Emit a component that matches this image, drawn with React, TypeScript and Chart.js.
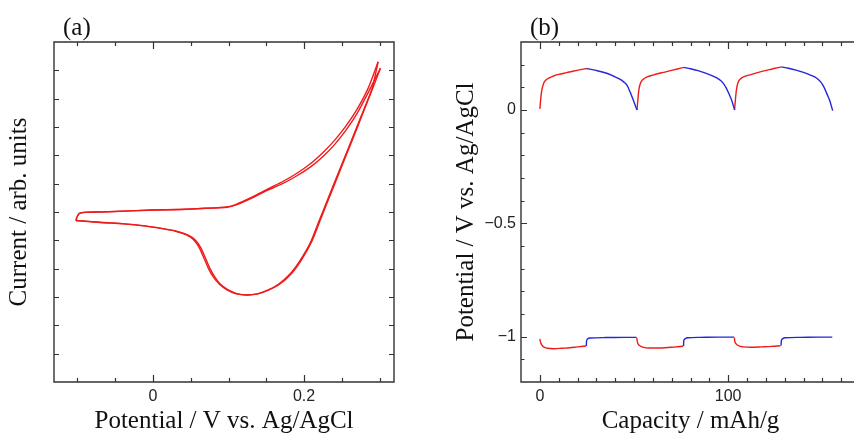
import React, { useEffect, useRef } from 'react';
import { Chart, registerables } from 'chart.js';

Chart.register(...registerables);

// ---------- (a) Cyclic voltammogram: [potential V, current arb.] ----------
const cv1Anodic: number[][] = [
  [-0.102, -0.3], [-0.1, -0.15], [-0.097, -0.05], [-0.09, -0.015], [-0.075, 0.0], [-0.06, 0.005],
  [-0.03, 0.04], [0, 0.07], [0.036, 0.09], [0.07, 0.13], [0.098, 0.18], [0.11, 0.27],
  [0.133, 0.55], [0.151, 0.8], [0.17, 1.05], [0.19, 1.36], [0.21, 1.74], [0.225, 2.1],
  [0.24, 2.52], [0.255, 3.02], [0.27, 3.62], [0.285, 4.38], [0.298, 5.3],
];
const cv1Cathodic: number[][] = [
  [0.298, 5.3], [0.29, 4.36], [0.274, 3.28], [0.26, 2.35], [0.245, 1.36], [0.23, 0.36],
  [0.22, -0.3], [0.208, -1.1], [0.195, -1.7], [0.182, -2.17], [0.166, -2.55],
  [0.151, -2.77], [0.138, -2.89], [0.124, -2.93], [0.11, -2.89], [0.098, -2.75], [0.088, -2.55],
  [0.08, -2.3], [0.073, -1.97], [0.067, -1.6], [0.061, -1.25], [0.054, -0.99], [0.045, -0.82],
  [0.03, -0.68], [0.01, -0.58], [-0.01, -0.5], [-0.04, -0.42], [-0.07, -0.37], [-0.102, -0.3],
];
const cv2Anodic: number[][] = [
  [-0.102, -0.3], [-0.1, -0.14], [-0.097, -0.04], [-0.09, -0.01], [-0.075, 0.0], [-0.06, 0.01],
  [-0.03, 0.04], [0, 0.07], [0.036, 0.09], [0.07, 0.13], [0.098, 0.17], [0.11, 0.25],
  [0.133, 0.52], [0.151, 0.76], [0.17, 0.98], [0.19, 1.27], [0.21, 1.62], [0.225, 1.96],
  [0.24, 2.37], [0.255, 2.87], [0.27, 3.47], [0.285, 4.22], [0.301, 5.07],
];
const cv2Cathodic: number[][] = [
  [0.301, 5.07], [0.292, 4.45], [0.276, 3.36], [0.262, 2.42], [0.247, 1.42], [0.232, 0.42],
  [0.222, -0.25], [0.21, -1.05], [0.197, -1.67], [0.184, -2.15], [0.168, -2.54],
  [0.152, -2.77], [0.139, -2.89], [0.125, -2.93], [0.111, -2.88], [0.099, -2.74], [0.089, -2.54],
  [0.082, -2.3], [0.075, -1.97], [0.069, -1.6], [0.063, -1.25], [0.056, -0.99], [0.046, -0.81],
  [0.03, -0.67], [0.01, -0.57], [-0.01, -0.49], [-0.04, -0.41], [-0.07, -0.36], [-0.102, -0.3],
];

const cvXMajor = [0, 0.2];
const cvXMinor = [-0.1, -0.05, 0.05, 0.1, 0.15, 0.25, 0.3];
const cvYTicks = [-5, -4, -3, -2, -1, 0, 1, 2, 3, 4, 5];

// ---------- (b) Charge/discharge: [capacity mAh/g, potential V] ----------
const posCharge1: number[][] = [
  [0, 0.005], [0.5, 0.05], [1, 0.085], [1.9, 0.115], [3, 0.13], [5, 0.142], [7.2, 0.15],
  [10, 0.157], [14.3, 0.165], [18, 0.172], [21.5, 0.178], [24.8, 0.183],
];
const posDischarge1: number[][] = [
  [24.8, 0.183], [28, 0.178], [31, 0.172], [35.5, 0.162], [39, 0.15], [42.5, 0.136],
  [44.5, 0.124], [46.4, 0.108], [48, 0.078], [49.6, 0.044], [51.6, 0.0],
];
const posCharge2: number[][] = [
  [51.6, 0.0], [52.1, 0.05], [52.6, 0.09], [53.5, 0.12], [54.8, 0.135], [57, 0.146],
  [60, 0.154], [65, 0.165], [70, 0.175], [73, 0.181], [76.5, 0.188],
];
const posDischarge2: number[][] = [
  [76.5, 0.188], [80, 0.182], [84, 0.174], [88, 0.163], [92, 0.149], [95, 0.136],
  [97, 0.122], [98.8, 0.1], [100.5, 0.07], [102, 0.04], [103.4, 0.0],
];
const posCharge3: number[][] = [
  [103.4, 0.0], [103.9, 0.05], [104.4, 0.09], [105.2, 0.12], [106.4, 0.136], [108.5, 0.147],
  [112, 0.156], [117, 0.168], [122, 0.178], [125, 0.184], [128.3, 0.19],
];
const posDischarge3: number[][] = [
  [128.3, 0.19], [132, 0.184], [136, 0.176], [140, 0.166], [144, 0.153], [147, 0.14],
  [149, 0.125], [150.8, 0.102], [152.5, 0.07], [154, 0.04], [155.5, -0.003],
];
const negCharge1: number[][] = [
  [0, -1.01], [0.3, -1.022], [0.9, -1.035], [2, -1.045], [4, -1.051], [7.2, -1.053],
  [12, -1.051], [16, -1.049], [20, -1.045], [24.6, -1.041],
];
const negDischarge1: number[][] = [
  [24.7, -1.041], [24.8, -1.02], [25.3, -1.01], [26.7, -1.006], [35, -1.004], [45, -1.003], [51.4, -1.003],
];
const negCharge2: number[][] = [
  [51.5, -1.005], [51.7, -1.02], [52.2, -1.033], [53.1, -1.04], [55, -1.047], [58, -1.05],
  [62, -1.05], [66.5, -1.049], [71, -1.046], [76.1, -1.042],
];
const negDischarge2: number[][] = [
  [76.3, -1.041], [76.4, -1.02], [77, -1.01], [78.5, -1.005], [85, -1.003], [95, -1.002], [103.2, -1.002],
];
const negCharge3: number[][] = [
  [103.3, -1.004], [103.5, -1.02], [104, -1.03], [105, -1.038], [108, -1.045], [112, -1.047],
  [118, -1.045], [123, -1.043], [127.8, -1.04],
];
const negDischarge3: number[][] = [
  [128.1, -1.039], [128.2, -1.02], [128.8, -1.01], [130, -1.005], [138, -1.003], [148, -1.002], [155.3, -1.002],
];

const gcdXMajor = [0, 100];
const gcdXMinor = [10, 20, 30, 40, 50, 60, 70, 80, 90, 110, 120, 130, 140, 150, 160];
const gcdYMajor = [0, -0.5, -1];
const gcdYMinor = [0.2, 0.1, -0.1, -0.2, -0.3, -0.4, -0.6, -0.7, -0.8, -0.9, -1.1];

const RED = '#ee1b1b';
const BLUE = '#2525dd';
const AXIS = '#333333';
const SERIF = '"Liberation Serif", "Times New Roman", serif';
const SANS = '"Liberation Sans", Arial, sans-serif';

const toPts = (arr: number[][]) => arr.map(([x, y]) => ({ x, y }));
const fmt = (v: number) => String(v).replace('-', '\u2212');

type TickSpec = {
  xMajor: number[]; xMinor: number[]; yMajor: number[]; yMinor: number[];
  xMajLen: number; xMinLen: number; yMajLen: number; yMinLen: number;
  label: string; labelX: number; rightEdge: boolean;
};

function boxPlugin(spec: TickSpec) {
  return {
    id: 'boxTicks',
    afterDraw(chart: any) {
      const { ctx, chartArea, scales } = chart;
      const { left, right, top, bottom } = chartArea;
      const xs = scales.x;
      const ys = scales.y;
      ctx.save();
      ctx.strokeStyle = AXIS;
      ctx.lineWidth = 1.4;
      ctx.beginPath();
      ctx.moveTo(right, top);
      ctx.lineTo(left, top);
      ctx.lineTo(left, bottom);
      ctx.lineTo(right, bottom);
      if (spec.rightEdge) ctx.closePath();
      ctx.stroke();
      ctx.lineWidth = 1.2;
      const drawX = (vals: number[], len: number) => {
        vals.forEach((v) => {
          const px = Math.round(xs.getPixelForValue(v)) + 0.5;
          ctx.beginPath();
          ctx.moveTo(px, bottom);
          ctx.lineTo(px, bottom - len);
          ctx.moveTo(px, top);
          ctx.lineTo(px, top + len);
          ctx.stroke();
        });
      };
      const drawY = (vals: number[], len: number) => {
        vals.forEach((v) => {
          const py = Math.round(ys.getPixelForValue(v)) + 0.5;
          ctx.beginPath();
          ctx.moveTo(left, py);
          ctx.lineTo(left + len, py);
          ctx.moveTo(right, py);
          ctx.lineTo(right - len, py);
          ctx.stroke();
        });
      };
      drawX(spec.xMajor, spec.xMajLen);
      drawX(spec.xMinor, spec.xMinLen);
      drawY(spec.yMajor, spec.yMajLen);
      drawY(spec.yMinor, spec.yMinLen);
      ctx.fillStyle = '#111';
      ctx.font = `25px ${SERIF}`;
      ctx.textBaseline = 'alphabetic';
      ctx.textAlign = 'left';
      ctx.fillText(spec.label, spec.labelX, 35);
      ctx.restore();
    },
  };
}

function lineDs(arr: number[][], color: string, mode: 'cv' | 'gcd') {
  return {
    data: toPts(arr),
    showLine: true,
    borderColor: color,
    backgroundColor: color,
    borderWidth: 1.4,
    pointRadius: 0,
    tension: mode === 'cv' ? 0.2 : 0,
    cubicInterpolationMode: mode === 'gcd' ? 'monotone' : 'default',
  } as any;
}

export default function App() {
  const leftRef = useRef<HTMLCanvasElement | null>(null);
  const rightRef = useRef<HTMLCanvasElement | null>(null);

  useEffect(() => {
    const tickFont = { family: SANS, size: 16 };
    const titleFont = { family: SERIF, size: 25, lineHeight: 1 };

    const left = new Chart(leftRef.current as HTMLCanvasElement, {
      type: 'scatter',
      data: {
        datasets: [
          lineDs(cv1Anodic, RED, 'cv'),
          lineDs(cv1Cathodic, RED, 'cv'),
          lineDs(cv2Anodic, RED, 'cv'),
          lineDs(cv2Cathodic, RED, 'cv'),
        ],
      },
      options: {
        animation: false,
        responsive: false,
        layout: { padding: { top: 42, right: 33, left: 0, bottom: 0 } },
        plugins: { legend: { display: false }, tooltip: { enabled: false } },
        scales: {
          x: {
            type: 'linear',
            min: -0.131,
            max: 0.319,
            grid: { display: false, drawTicks: false },
            border: { display: false },
            afterBuildTicks: (s: any) => { s.ticks = cvXMajor.map((value) => ({ value })); },
            afterFit: (s: any) => { s.height = 52; },
            ticks: { font: tickFont, color: '#222', padding: 5, maxRotation: 0, autoSkip: false, callback: (v: any) => fmt(v) },
            title: { display: true, text: 'Potential / V vs. Ag/AgCl', font: titleFont, color: '#111', padding: { top: 0, bottom: 0 } },
          },
          y: {
            type: 'linear',
            min: -6,
            max: 6,
            grid: { display: false, drawTicks: false },
            border: { display: false },
            afterBuildTicks: (s: any) => { s.ticks = cvYTicks.map((value) => ({ value })); },
            afterFit: (s: any) => { s.width = 54; },
            ticks: { display: false },
            title: { display: true, text: 'Current / arb. units', font: titleFont, color: '#111', padding: { top: 7, bottom: 0 } },
          },
        },
      } as any,
      plugins: [boxPlugin({ xMajor: cvXMajor, xMinor: cvXMinor, yMajor: cvYTicks, yMinor: [], xMajLen: 7, xMinLen: 4, yMajLen: 5, yMinLen: 3, label: '(a)', labelX: 63, rightEdge: true })],
    });

    const right = new Chart(rightRef.current as HTMLCanvasElement, {
      type: 'scatter',
      data: {
        datasets: [
          lineDs(posCharge1, RED, 'gcd'),
          lineDs(posDischarge1, BLUE, 'gcd'),
          lineDs(posCharge2, RED, 'gcd'),
          lineDs(posDischarge2, BLUE, 'gcd'),
          lineDs(posCharge3, RED, 'gcd'),
          lineDs(posDischarge3, BLUE, 'gcd'),
          lineDs(negCharge1, RED, 'gcd'),
          lineDs(negDischarge1, BLUE, 'gcd'),
          lineDs(negCharge2, RED, 'gcd'),
          lineDs(negDischarge2, BLUE, 'gcd'),
          lineDs(negCharge3, RED, 'gcd'),
          lineDs(negDischarge3, BLUE, 'gcd'),
        ],
      },
      options: {
        animation: false,
        responsive: false,
        layout: { padding: { top: 42, right: 12, left: 0, bottom: 0 } },
        plugins: { legend: { display: false }, tooltip: { enabled: false } },
        scales: {
          x: {
            type: 'linear',
            min: -10,
            max: 170,
            grid: { display: false, drawTicks: false },
            border: { display: false },
            afterBuildTicks: (s: any) => { s.ticks = gcdXMajor.map((value) => ({ value })); },
            afterFit: (s: any) => { s.height = 52; },
            ticks: { font: tickFont, color: '#222', padding: 5, maxRotation: 0, autoSkip: false, callback: (v: any) => fmt(v) },
            title: { display: true, text: 'Capacity / mAh/g', font: titleFont, color: '#111', padding: { top: 0, bottom: 0 } },
          },
          y: {
            type: 'linear',
            min: -1.2,
            max: 0.3,
            grid: { display: false, drawTicks: false },
            border: { display: false },
            afterBuildTicks: (s: any) => { s.ticks = gcdYMajor.map((value) => ({ value })); },
            afterFit: (s: any) => { s.width = 94; },
            ticks: { font: tickFont, color: '#222', padding: 5, autoSkip: false, callback: (v: any) => fmt(v) },
            title: { display: true, text: 'Potential / V vs. Ag/AgCl', font: titleFont, color: '#111', padding: { top: 27, bottom: 0 } },
          },
        },
      } as any,
      plugins: [boxPlugin({ xMajor: gcdXMajor, xMinor: gcdXMinor, yMajor: gcdYMajor, yMinor: gcdYMinor, xMajLen: 7, xMinLen: 4, yMajLen: 6, yMinLen: 3.5, label: '(b)', labelX: 103, rightEdge: false })],
    });

    return () => {
      left.destroy();
      right.destroy();
    };
  }, []);

  return (
    <div style={{ position: 'fixed', left: 0, top: 0, width: 854, height: 434, overflow: 'hidden', background: '#fff' }}>
      <canvas ref={leftRef} width={427} height={434} style={{ position: 'absolute', left: 0, top: 0 }} />
      <canvas ref={rightRef} width={445} height={434} style={{ position: 'absolute', left: 427, top: 0 }} />
    </div>
  );
}
